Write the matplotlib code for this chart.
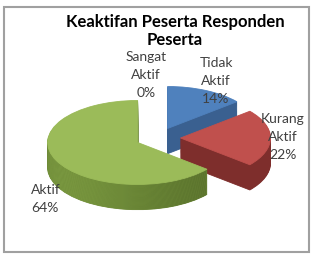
import matplotlib
matplotlib.use('Agg')
import matplotlib.pyplot as plt
import numpy as np
from matplotlib.patches import Rectangle
from matplotlib.colors import LinearSegmentedColormap

# data keaktifan peserta
kategori = ['Sangat Aktif', 'Tidak Aktif', 'Kurang Aktif', 'Aktif']
persen = [0, 14, 22, 64]
warna_atas = ['#4F81BD', '#4F81BD', '#C0504D', '#9BBB59']
warna_sisi = ['#3A6090', '#3A6090', '#7E2E2C', '#6E8A38']

plt.rcParams['font.family'] = ['Lato', 'DejaVu Sans']

fig = plt.figure(figsize=(3.13, 2.59), dpi=100)
ax = fig.add_axes([0, 0, 1, 1])

pecah = [0.25] * len(persen)
tebal = 0.6      # tinggi sisi 3D
lapis = 28
# gradasi sisi hijau (terang di kiri, gelap di kanan)
cmap_hijau = LinearSegmentedColormap.from_list(
    'hijau', ['#90B150', '#7C9B42', '#607A31', '#4A5E24'])
gradasi = np.linspace(0, 1, 256).reshape(1, -1)


def gambar_pie(warna, dy, sisi=False):
    wedges, _ = ax.pie(persen, explode=pecah, colors=warna, startangle=90,
                       counterclock=False, center=(0, dy), radius=1,
                       wedgeprops={'linewidth': 0.6})
    for w, v in zip(wedges, persen):
        w.set_edgecolor(w.get_facecolor())
        if v == 0:
            w.set_visible(False)
    if sisi:
        im = ax.imshow(gradasi, cmap=cmap_hijau, aspect='auto',
                       extent=(-1.4, 0.62, -2, 1), zorder=1)
        im.set_clip_path(wedges[-1])


# sisi bawah (ditumpuk) lalu permukaan atas
for i in range(lapis):
    gambar_pie(warna_sisi, -tebal + tebal * i / lapis, sisi=True)
gambar_pie(warna_atas, 0)

ry = 42
ax.set_aspect('auto')
ax.set_xlim(-158 / 90, 155 / 90)
ax.set_ylim(-121 / ry, 138 / ry)
ax.axis('off')

# label
posisi = [(146, 75), (216, 81), (283, 137), (46, 199)]
for nama, v, (px, py) in zip(kategori, persen, posisi):
    teks = nama.replace(' ', '\n') + '\n' + f'{v}%'
    fig.text(px / 313, 1 - py / 259, teks, ha='center', va='center',
             multialignment='center' if nama != 'Aktif' else 'left',
             fontsize=10, color='#404040', linespacing=1.6, zorder=5)

fig.text(175 / 313, 1 - 31 / 259, 'Keaktifan Peserta Responden\nPeserta',
         ha='center', va='center', fontsize=12, fontweight='bold',
         color='black', linespacing=1.15)

fig.patches.append(Rectangle((4 / 313, 7 / 259), 305 / 313, 245 / 259,
                             transform=fig.transFigure, fill=False,
                             edgecolor='#A0A0A0', linewidth=1.5))

fig.savefig('out.png', dpi=100)
